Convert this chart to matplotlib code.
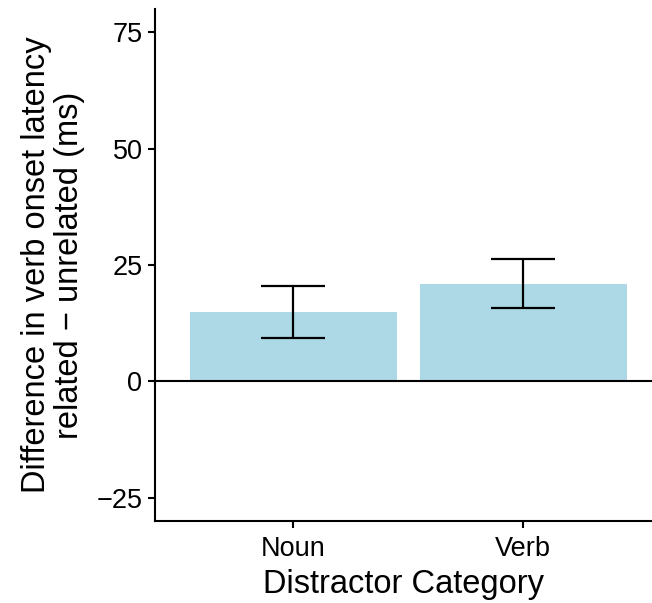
import numpy as np
import matplotlib
matplotlib.use("Agg")
import matplotlib.pyplot as plt

plt.rcParams['font.family'] = ['Liberation Sans', 'DejaVu Sans']

# values
categories = ["Noun", "Verb"]
diff_means = [14.9, 20.9]
err_low = [9.3, 15.7]
err_high = [20.5, 26.3]
yticks = [-25, 0, 25, 50, 75]

fig = plt.figure(figsize=(6.52, 6.03), dpi=100)
ax = fig.add_axes([155/652, 1 - 521/603, 1 - 155/652, (521 - 9)/603])

x = np.arange(len(categories))
ax.bar(x, diff_means, width=0.9, color="#ADD8E6", zorder=1)
means = np.array(diff_means)
yerr = [means - np.array(err_low), np.array(err_high) - means]
ax.errorbar(x, means, yerr=yerr, fmt="none", ecolor="black", elinewidth=1.6,
            capsize=23, capthick=1.6, zorder=3)
ax.axhline(0, color="black", linewidth=1.5, zorder=2)

ax.set_xlim(-0.6, 1.56)
ax.set_ylim(-30, 80)
ax.set_xticks(x)
ax.set_xticklabels(categories)
ax.set_yticks(yticks)
ax.set_yticklabels([str(v).replace("-", "\u2212") for v in yticks])

for side in ["top", "right"]:
    ax.spines[side].set_visible(False)
for side in ["left", "bottom"]:
    ax.spines[side].set_linewidth(1.5)
ax.tick_params(axis="both", width=1.5, length=5, labelsize=19.5, colors="black",
               pad=4)
ax.tick_params(axis="x", pad=6)

ax.set_xlabel("Distractor Category", fontsize=23.5, labelpad=5)
ax.set_ylabel("Difference in verb onset latency\nrelated \u2212 unrelated (ms)",
              fontsize=23.5, labelpad=8, linespacing=1.1)

fig.savefig("out.png", dpi=100)
